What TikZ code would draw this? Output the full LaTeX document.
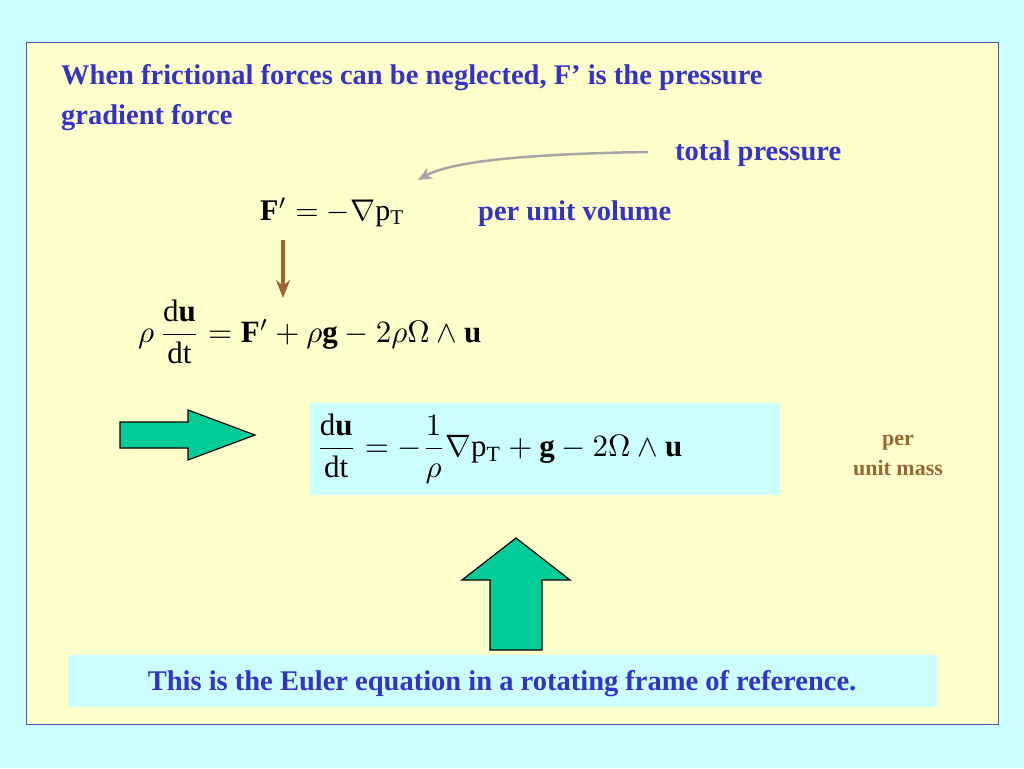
\documentclass[tikz,border=0pt]{standalone}
\usepackage{amsmath}
\usepackage{fontspec}
\setmainfont{Liberation Serif}
\usetikzlibrary{arrows.meta}
\definecolor{bgc}{HTML}{CCFFFF}
\definecolor{panel}{HTML}{FFFFCC}
\definecolor{ttl}{HTML}{3333CC}
\definecolor{brn}{HTML}{996633}
\definecolor{grn}{HTML}{00CC99}
\tikzset{
 ttext/.style={text=ttl,font=\fontsize{28.5}{32}\selectfont\bfseries,inner sep=0,anchor=west},
 eqn/.style={inner sep=0},
 bigarrow/.style={fill=grn,draw=black,line width=1.2pt,line join=miter}
}
\begin{document}
\begin{tikzpicture}[x=1pt,y=-1pt]
\useasboundingbox (0,0) rectangle (1024,768);
\fill[bgc] (0,0) rectangle (1024,768);
\draw[fill=panel,draw=ttl!60!gray,line width=1pt] (26,43) rectangle (998,724);
\node[ttext] (t1) at (61,78) {When frictional forces can be neglected, F’ is the pressure};
\node[ttext] (t2) at (61,118) {gradient force};
\node[ttext] (tp) at (675,154) {total pressure};
\node[eqn,anchor=west] (e1) at (260,212) {\scalebox{3}{$\mathbf{F}' = -\nabla \mathrm{p}_{\mathrm{T}}$}};
\node[ttext] (pv) at (478,214) {per unit volume};
\draw[gray!70,line width=2.5pt,-{Stealth[length=14pt,width=12pt]}] (648,152) .. controls (520,154) and (450,162) .. (418,180);
\coordinate (b1) at (283,240);
\coordinate (b2) at (283,298);
\draw[brn,line width=3.5pt,-{Stealth[length=18pt,width=14pt]}] (b1) -- (b2);
\node[eqn,anchor=west] (e2) at (138,332) {\scalebox{3.1}{$\rho\,\dfrac{\mathrm{d}\mathbf{u}}{\mathrm{dt}} = \mathbf{F}' + \rho\mathbf{g} - 2\rho\Omega\wedge\mathbf{u}$}};
\draw[bigarrow] (120,422) -- (188,422) -- (188,410) -- (255,435) -- (188,460) -- (188,448) -- (120,448) -- cycle;
\fill[bgc] (310,403) rectangle (780,495);
\node[eqn,anchor=west] (e3) at (316,449) {\scalebox{3.1}{$\dfrac{\mathrm{d}\mathbf{u}}{\mathrm{dt}} = -\dfrac{1}{\rho}\nabla\mathrm{p}_{\mathrm{T}} + \mathbf{g} - 2\Omega\wedge\mathbf{u}$}};
\node[text=brn,font=\fontsize{22}{26}\selectfont\bfseries,align=center,inner sep=0] (pm) at (898,455) {per\\[4pt]unit mass};
\draw[bigarrow] (516,538) -- (570,580) -- (542,580) -- (542,650) -- (490,650) -- (490,580) -- (462,580) -- cycle;
\fill[bgc] (68,655) rectangle (937,707);
\node[ttext,anchor=center] (bt) at (502,684) {This is the Euler equation in a rotating frame of reference.};
\end{tikzpicture}
\end{document}
